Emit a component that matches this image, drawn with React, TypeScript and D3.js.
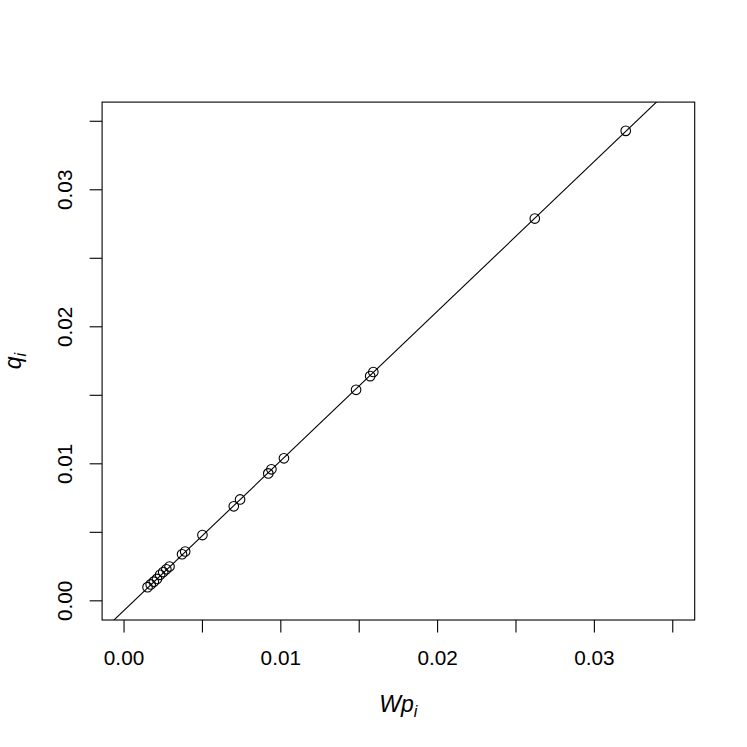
import React from "react";
import * as d3 from "d3";

// Data
const wp: number[] = [0.0320, 0.0262, 0.0159, 0.0157, 0.0148, 0.0102, 0.0094, 0.0092, 0.0074, 0.0070, 0.0050, 0.0039, 0.0037, 0.0029, 0.0027, 0.0025, 0.0023, 0.0021, 0.0019, 0.0017, 0.0015];
const q: number[] = [0.0343, 0.0279, 0.0167, 0.0164, 0.0154, 0.0104, 0.0096, 0.0093, 0.0074, 0.0069, 0.0048, 0.0036, 0.0034, 0.0025, 0.0023, 0.0021, 0.0019, 0.0016, 0.0014, 0.0012, 0.0010];
const lineIntercept = -0.0007;
const lineSlope = 1.0925;
const tickValues: number[] = [0, 0.005, 0.01, 0.015, 0.02, 0.025, 0.03, 0.035];
const labelValues: number[] = [0, 0.01, 0.02, 0.03];
const axisLimits: [number, number] = [0, 0.035];

const W = 747;
const H = 747;
const FS = 20.75;
const LH = FS * 1.2;
const TFS = 23;

export default function App() {
  const left = 4.1 * LH;
  const right = W - 2.1 * LH;
  const top = 4.1 * LH;
  const bottom = H - 5.1 * LH;
  const ext = (axisLimits[1] - axisLimits[0]) * 0.04;
  const x = d3.scaleLinear().domain([axisLimits[0] - ext, axisLimits[1] + ext]).range([left, right]);
  const y = d3.scaleLinear().domain([axisLimits[0] - ext, axisLimits[1] + ext]).range([bottom, top]);
  const tl = 0.5 * LH;
  const font = "'Liberation Sans', Arial, Helvetica, sans-serif";
  const lineGen = d3.line<number>().x((d) => x(d)).y((d) => y(lineIntercept + lineSlope * d));
  const xd = x.domain();
  const sw = 1.1;
  return (
    <svg width={W} height={H} style={{ position: "absolute", left: 0, top: 0, background: "#fff" }} fontFamily={font}>
      <defs>
        <clipPath id="plotclip">
          <rect x={left} y={top} width={right - left} height={bottom - top} />
        </clipPath>
      </defs>
      <rect x={0} y={0} width={W} height={H} fill="#fff" />
      <path d={lineGen([xd[0], xd[1]]) || ""} stroke="#000" strokeWidth={sw} fill="none" clipPath="url(#plotclip)" />
      {wp.map((v, i) => (
        <circle key={i} cx={x(v)} cy={y(q[i])} r={4.8} fill="none" stroke="#000" strokeWidth={sw} />
      ))}
      <rect x={left} y={top} width={right - left} height={bottom - top} fill="none" stroke="#000" strokeWidth={sw} />
      {/* x axis */}
      {tickValues.map((t) => (
        <line key={"xt" + t} x1={x(t)} x2={x(t)} y1={bottom} y2={bottom + tl} stroke="#000" strokeWidth={sw} />
      ))}
      {labelValues.map((t) => (
        <text key={"xl" + t} x={x(t)} y={bottom + 1.8 * LH} fontSize={FS} textAnchor="middle">
          {t.toFixed(2)}
        </text>
      ))}
      {/* y axis */}
      {tickValues.map((t) => (
        <line key={"yt" + t} x1={left} x2={left - tl} y1={y(t)} y2={y(t)} stroke="#000" strokeWidth={sw} />
      ))}
      {labelValues.map((t) => (
        <text
          key={"yl" + t}
          transform={`translate(${left - 1.2 * LH},${y(t)}) rotate(-90)`}
          fontSize={FS}
          textAnchor="middle"
        >
          {t.toFixed(2)}
        </text>
      ))}
      {/* axis titles */}
      <text x={(left + right) / 2} y={712} fontSize={TFS} textAnchor="middle" fontStyle="italic">
        Wp<tspan fontSize={TFS * 0.7} dy={5}>i</tspan>
      </text>
      <text
        transform={`translate(21,${(top + bottom) / 2}) rotate(-90)`}
        fontSize={TFS}
        textAnchor="middle"
        fontStyle="italic"
      >
        q<tspan fontSize={TFS * 0.7} dy={5}>i</tspan>
      </text>
    </svg>
  );
}
